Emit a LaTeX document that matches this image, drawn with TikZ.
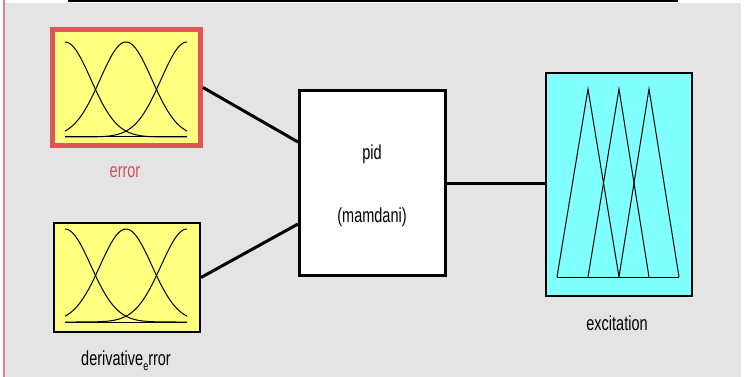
\documentclass[tikz,border=0pt]{standalone}
\usepackage{fontspec}
\setmainfont{Liberation Sans}
\usepackage{graphicx}
\definecolor{bggray}{HTML}{E4E4E4}
\definecolor{mfyellow}{HTML}{FFFF80}
\definecolor{mfcyan}{HTML}{80FFFF}
\definecolor{selred}{HTML}{E05555}
\definecolor{labred}{HTML}{D0505A}
\definecolor{edgepink}{HTML}{D0849A}
\newcommand{\lbl}[1]{\scalebox{1}[1.4]{\fontsize{14.5}{17}\selectfont #1}}
\begin{document}
\begin{tikzpicture}[x=1pt,y=-1pt,
  mfbox/.style={draw=black,line width=2pt,rectangle,inner sep=0pt,minimum width=146pt},
  wire/.style={line width=3pt,black},
  curve/.style={black,line width=1pt}]
\useasboundingbox (0,0) rectangle (747,377);
\fill[white] (0,0) rectangle (747,377);
\fill[bggray] (5,3) rectangle (741,377);
\fill[edgepink] (3,0) rectangle (5,377);
\fill[black] (68,0) rectangle (678,2);
% boxes
\node[mfbox,draw=selred,line width=5pt,fill=mfyellow,minimum width=148pt,minimum height=116pt] (err) at (126.5,87.5) {};
\node[mfbox,fill=mfyellow,minimum height=109pt] (der) at (127,277.5) {};
\node[mfbox,line width=3pt,fill=white,minimum height=185pt] (pid) at (372.5,183) {};
\node[mfbox,fill=mfcyan,minimum height=223pt] (exc) at (619,184.5) {};
% membership functions: error
\foreach \c in {65,126,187}{
  \draw[curve] plot[domain=65:187,samples=70] (\x,{137-95*exp(-((\x-\c)^2)/1341.6)});
}
\draw[curve] (65,137) -- (187,137);
% membership functions: derivative
\foreach \c in {65,126,187}{
  \draw[curve] plot[domain=65:187,samples=70] (\x,{322-93*exp(-((\x-\c)^2)/1341.6)});
}
\draw[curve] (65,322) -- (187,322);
% excitation triangles
\draw[curve] (557,277) -- (588,89) -- (619,277);
\draw[curve] (588,277) -- (619,89) -- (649,277);
\draw[curve] (619,277) -- (649,89) -- (679,277);
\draw[curve] (557,277) -- (679,277);
% labels
\node[text=labred,inner sep=0pt] (errl) at (125,172) {\lbl{error}};
\node[inner sep=0pt] (derl) at (126,361) {\lbl{derivative\raisebox{-0.5ex}{\fontsize{9}{10}\selectfont e}rror}};
\node[inner sep=0pt] (pidl) at (372,154) {\lbl{pid}};
\node[inner sep=0pt] (maml) at (372,217) {\lbl{(mamdani)}};
\node[inner sep=0pt] (excl) at (617,323) {\lbl{excitation}};
% connectors
\draw[wire] (err.east) -- ([yshift=41pt]pid.west);
\draw[wire] (der.east) -- ([yshift=-41pt]pid.west);
\draw[wire] (pid.east) -- (pid.east -| exc.west);
\end{tikzpicture}
\end{document}
